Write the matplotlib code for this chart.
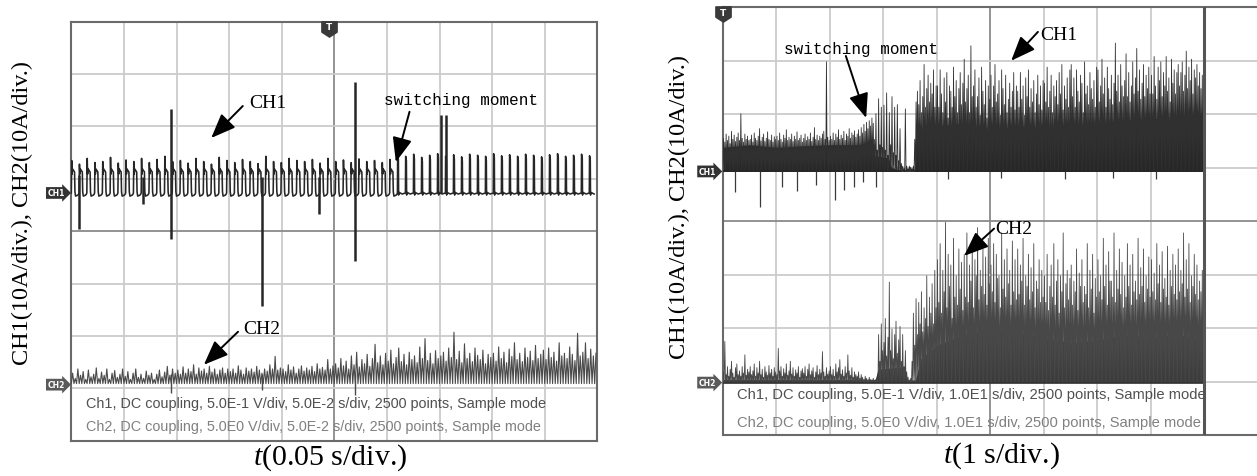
import numpy as np
import matplotlib.pyplot as plt
from matplotlib.path import Path

plt.rcParams['font.family'] = ['Liberation Serif', 'DejaVu Serif']
plt.rcParams['mathtext.fontset'] = 'custom'
plt.rcParams['mathtext.it'] = 'Liberation Serif:italic'
plt.rcParams['mathtext.rm'] = 'Liberation Serif'

# ---------------- left capture, 0.05 s/div ----------------
l_ch1_gnd = 0.73          # CH1 reference level (div)
l_ch2_gnd = -2.93         # CH2 reference level (div)
l_switch = 6.2            # switching moment (div)

# peak of every PWM cycle, div above CH1 reference
l_ch1_pre = [0.62, 0.55, 0.66, 0.58, 0.60, 0.68, 0.57, 0.63, 0.60, 0.66, 0.58, 0.64, 0.70, 0.60,
             0.62, 0.57, 0.66, 0.60, 0.55, 0.68, 0.62, 0.58, 0.64, 0.60, 0.56, 0.70, 0.60, 0.58,
             0.66, 0.62, 0.60, 0.64, 0.57, 0.66, 0.60, 0.63, 0.58, 0.65, 0.60, 0.62, 0.58, 0.64]
l_ch1_post = [0.72, 0.70, 0.74, 0.68, 0.72, 0.75, 0.70, 0.73, 0.69, 0.74, 0.72, 0.70, 0.75,
              0.71, 0.73, 0.70, 0.74, 0.72, 0.69, 0.73, 0.75, 0.70, 0.72, 0.74, 0.71]
# isolated transients on CH1
l_ch1_spk_x = [0.14, 1.36, 1.90, 3.62, 4.70, 5.39, 7.02, 7.12]
l_ch1_spk_top = [0.35, 0.30, 1.60, 0.30, 0.30, 2.11, 1.48, 1.48]
l_ch1_spk_bot = [-0.69, -0.22, -0.88, -2.15, -0.40, -1.29, 0.0, 0.0]

# CH2 samples, div above CH2 reference (0.05 div apart)
l_ch2_vals = [
    0.22, 0.12, 0.30, 0.18, 0.25, 0.10, 0.28, 0.15, 0.20, 0.32, 0.12, 0.24, 0.18, 0.30, 0.10, 0.22, 0.27, 0.14, 0.20, 0.30,
    0.16, 0.25, 0.10, 0.22, 0.30, 0.14, 0.20, 0.12, 0.26, 0.18, 0.22, 0.10, 0.20, 0.28, 0.15, 0.24, 0.35, 0.18, 0.30, 0.22,
    0.28, 0.20, 0.34, 0.22, 0.30, 0.25, 0.38, 0.20, 0.32, 0.26, 0.30, 0.22, 0.35, 0.24, 0.30, 0.20, 0.28, 0.32, 0.22, 0.30,
    0.25, 0.30, 0.22, 0.36, 0.28, 0.20, 0.32, 0.26, 0.30, 0.24, 0.35, 0.28, 0.22, 0.30, 0.26, 0.38, 0.30, 0.54, 0.28, 0.32,
    0.30, 0.25, 0.38, 0.28, 0.34, 0.22, 0.30, 0.36, 0.26, 0.32, 0.28, 0.35, 0.25, 0.40, 0.30, 0.33, 0.28, 0.48, 0.30, 0.36,
    0.40, 0.32, 0.50, 0.36, 0.45, 0.30, 0.55, 0.38, 0.62, 0.34, 0.48, 0.40, 0.58, 0.35, 0.50, 0.77, 0.42, 0.55, 0.38, 0.60,
    0.45, 0.66, 0.40, 0.52, 0.70, 0.44, 0.58, 0.38, 0.62, 0.48, 0.55, 0.42, 0.72, 0.50, 0.88, 0.46, 0.60, 0.40, 0.65, 0.50,
    0.55, 0.62, 0.45, 0.70, 0.52, 1.00, 0.48, 0.64, 0.42, 0.78, 0.50, 0.60, 0.44, 0.70, 0.56, 0.48, 0.66, 0.40, 0.58, 0.52,
    0.60, 0.45, 0.72, 0.50, 0.62, 0.42, 0.68, 0.54, 0.80, 0.48, 0.60, 0.44, 0.70, 0.52, 0.64, 0.46, 0.75, 0.50, 0.58, 0.66,
    0.48, 0.70, 0.52, 0.62, 0.45, 0.80, 0.55, 0.60, 0.50, 0.72, 0.58, 0.46, 0.98, 0.55, 0.62, 0.80, 0.50, 0.68, 0.55, 0.60]
l_ch2_dip_x = [1.90, 3.62, 5.39]
l_ch2_dip = [-0.15, -0.10, -0.20]

# ---------------- right capture, 1 s/div ----------------
r_ch1_gnd = 0.93
r_ch2_gnd = -3.02
r_end = 9.0               # end of record (div)

# solid core of CH1 (x in div, height in div above reference)
r_ch1_body_x = [0, 0.5, 1.0, 1.5, 2.0, 2.5, 2.82, 2.84, 3.10, 3.15, 3.35, 3.58, 3.62,
                4.0, 4.5, 5.0, 5.5, 6.0, 6.5, 7.0, 7.5, 8.0, 8.5, 9.0]
r_ch1_body = [0.45, 0.50, 0.45, 0.48, 0.50, 0.50, 0.52, 0.30, 0.25, 0.08, 0.0, 0.0, 0.70,
              0.85, 0.90, 0.75, 0.85, 0.80, 0.85, 0.90, 0.95, 1.00, 0.95, 1.00]
# CH1 peaks, 0.025 div apart (one row = 0.5 div)
r_ch1_vals = [
    0.62, 0.55, 0.70, 0.58, 0.66, 0.52, 0.75, 0.60, 0.68, 0.56, 0.64, 0.72, 0.58, 1.08, 0.62, 0.55, 0.70, 0.60, 0.66, 0.58,
    0.60, 0.68, 0.55, 0.72, 0.62, 0.58, 0.66, 0.80, 0.57, 0.64, 0.70, 0.56, 0.62, 0.74, 0.60, 0.58, 0.68, 0.55, 0.65, 0.60,
    0.66, 0.58, 0.72, 0.60, 0.55, 0.68, 0.62, 0.78, 0.58, 0.64, 0.60, 0.70, 0.56, 0.66, 0.60, 0.74, 0.58, 0.62, 0.68, 0.55,
    0.62, 0.70, 0.58, 0.65, 0.60, 0.72, 0.56, 0.64, 0.82, 0.60, 0.68, 0.58, 0.66, 0.62, 0.70, 0.75, 0.60, 2.05, 0.64, 0.58,
    0.66, 0.60, 0.72, 0.58, 0.70, 0.64, 0.78, 0.60, 0.68, 0.62, 0.75, 0.58, 0.70, 0.66, 0.80, 0.62, 0.72, 0.68, 0.76, 0.64,
    0.70, 0.78, 0.66, 0.82, 0.72, 0.88, 0.75, 0.92, 0.80, 0.95, 0.85, 1.00, 0.90, 0.60, 1.08, 0.40, 1.36, 0.50, 1.20, 0.45,
    1.24, 0.40, 1.47, 0.30, 1.10, 0.50, 1.40, 0.35, 1.20, 0.30, 1.25, 0.20, 0.80, 0.15, 0.10, 0.05, 1.17, 0.10, 0.05, 0.10,
    0.08, 0.05, 0.10, 0.60, 1.30, 1.50, 1.25, 1.70, 1.10, 1.40, 2.00, 1.20, 1.55, 1.80, 1.30, 1.65, 1.45, 1.90, 1.20, 1.60,
    1.60, 1.20, 1.90, 1.45, 1.10, 1.75, 1.30, 1.85, 1.00, 1.60, 1.50, 1.20, 1.95, 1.40, 1.70, 1.10, 1.55, 1.85, 1.25, 1.65,
    2.10, 1.30, 1.55, 1.80, 1.10, 2.35, 1.40, 1.60, 1.90, 1.20, 1.40, 1.75, 1.05, 1.95, 1.50, 1.25, 1.70, 1.00, 1.60, 1.35,
    1.80, 1.20, 1.60, 2.00, 1.30, 1.45, 1.70, 1.05, 1.90, 1.55, 1.25, 1.80, 1.10, 1.35, 1.65, 1.20, 1.50, 1.85, 1.15, 1.60,
    1.50, 1.20, 1.85, 1.35, 1.60, 1.05, 1.75, 1.40, 1.90, 1.20, 1.55, 1.30, 1.70, 1.10, 1.45, 1.80, 1.25, 1.60, 1.15, 1.70,
    1.65, 1.30, 1.95, 1.20, 1.50, 1.80, 1.10, 1.60, 1.40, 1.70, 1.25, 1.85, 1.45, 2.00, 1.15, 1.60, 1.35, 1.75, 1.20, 1.90,
    2.00, 1.40, 1.75, 1.20, 1.90, 1.50, 1.30, 1.80, 1.65, 1.10, 2.05, 1.45, 1.60, 1.25, 1.85, 1.55, 1.35, 1.70, 1.20, 1.95,
    1.90, 1.30, 1.60, 2.10, 1.45, 1.75, 1.20, 1.95, 1.55, 1.35, 1.80, 1.25, 1.65, 2.40, 1.50, 1.80, 1.30, 2.00, 1.60, 1.40,
    1.70, 2.20, 1.40, 1.85, 1.30, 1.60, 2.05, 1.45, 1.75, 2.30, 1.50, 1.90, 1.35, 1.65, 2.00, 1.40, 1.80, 1.55, 1.95, 1.45,
    1.80, 1.45, 2.15, 1.60, 1.35, 1.95, 1.70, 2.05, 1.40, 1.85, 1.60, 2.15, 1.50, 1.75, 1.30, 2.10, 1.65, 1.90, 1.45, 1.85,
    2.00, 1.60, 1.85, 2.05, 1.50, 1.80, 2.25, 1.55, 1.95, 1.70, 2.10, 1.45, 1.90, 1.75, 2.00, 1.60, 1.85, 1.55, 1.80, 1.70]
r_ch1_dip_x = [0.23, 0.70, 1.10, 1.38, 1.75, 2.10, 2.27, 2.45, 2.62, 2.87, 4.2, 5.2, 6.4, 7.3, 8.1]
r_ch1_dip = [-0.38, -0.66, -0.30, -0.36, -0.25, -0.54, -0.35, -0.30, -0.20, -0.30,
             -0.15, -0.12, -0.15, -0.12, -0.15]

r_ch2_body_x = [0, 2.85, 2.90, 3.40, 3.45, 3.60, 3.70, 4.0, 4.5, 5.0, 5.5, 6.0, 6.5, 7.0, 7.5, 8.0, 8.5, 9.0]
r_ch2_body = [0.06, 0.06, 0.25, 0.30, 0.05, 0.05, 0.45, 0.70, 0.90, 1.00, 0.95, 0.85, 0.75, 0.80, 0.90, 0.85, 0.90, 0.80]
# CH2 peaks, 0.025 div apart (one row = 0.5 div)
r_ch2_vals = [
    0.20, 0.77, 0.15, 0.30, 0.12, 0.25, 0.40, 0.18, 0.10, 0.28, 0.35, 0.15, 0.22, 0.12, 0.30, 0.18, 0.52, 0.14, 0.25, 0.20,
    0.30, 0.15, 0.22, 0.35, 0.12, 0.28, 0.18, 0.40, 0.15, 0.25, 0.10, 0.30, 0.20, 0.14, 0.32, 0.18, 0.25, 0.12, 0.28, 0.20,
    0.15, 0.64, 0.22, 0.30, 0.12, 0.26, 0.18, 0.35, 0.14, 0.22, 0.40, 0.16, 0.28, 0.12, 0.24, 0.18, 0.30, 0.10, 0.22, 0.26,
    0.18, 0.30, 0.12, 0.25, 0.35, 0.15, 0.22, 0.28, 0.10, 0.20, 0.32, 0.15, 0.25, 0.18, 0.58, 0.20, 0.12, 0.28, 0.16, 0.22,
    0.30, 0.15, 0.25, 0.12, 0.35, 0.20, 0.28, 0.43, 0.16, 0.24, 0.12, 0.30, 0.18, 0.52, 0.22, 0.14, 0.28, 0.10, 0.20, 0.15,
    0.12, 0.20, 0.08, 0.15, 0.10, 0.06, 0.12, 0.08, 0.05, 0.10, 0.06, 0.05, 0.08, 0.04, 0.06, 0.05, 0.90, 0.40, 1.10, 0.60,
    0.75, 1.20, 0.50, 0.85, 1.88, 0.60, 1.00, 0.45, 0.90, 1.15, 0.55, 0.80, 1.05, 0.40, 0.90, 0.30, 0.60, 0.20, 0.10, 0.05,
    0.08, 0.40, 1.30, 0.70, 1.57, 0.90, 1.50, 1.10, 1.70, 0.95, 1.40, 1.20, 2.00, 1.05, 1.60, 1.30, 1.85, 1.10, 2.10, 1.40,
    2.30, 1.50, 2.60, 1.30, 2.10, 1.70, 3.00, 1.40, 2.40, 1.80, 2.20, 1.20, 2.70, 1.60, 2.00, 1.45, 2.50, 1.75, 2.25, 1.35,
    2.40, 1.60, 2.80, 1.50, 2.20, 1.90, 2.60, 1.40, 2.30, 2.00, 2.90, 1.55, 2.10, 1.80, 2.50, 1.65, 2.35, 1.45, 2.70, 1.85,
    2.20, 1.70, 2.60, 1.50, 2.40, 1.95, 2.00, 1.40, 2.80, 1.75, 2.30, 1.60, 2.50, 1.85, 2.10, 1.45, 2.65, 1.70, 2.30, 1.55,
    2.50, 1.65, 2.20, 1.90, 2.70, 1.45, 2.00, 1.80, 2.40, 1.55, 2.15, 1.70, 2.60, 1.40, 1.90, 1.75, 2.30, 1.50, 2.10, 1.60,
    2.00, 1.50, 2.40, 1.35, 1.80, 2.20, 1.60, 2.60, 1.45, 1.90, 2.30, 1.30, 2.00, 1.70, 2.80, 1.40, 1.85, 2.10, 1.55, 1.95,
    2.20, 1.45, 1.90, 1.70, 2.50, 1.35, 2.05, 1.80, 2.30, 1.50, 1.80, 1.65, 2.60, 1.40, 2.10, 1.75, 2.40, 1.30, 1.95, 1.60,
    2.30, 1.70, 2.00, 1.55, 2.70, 1.80, 2.20, 1.45, 2.45, 1.90, 1.90, 1.60, 2.80, 1.50, 2.10, 1.75, 2.50, 1.65, 2.25, 1.40,
    2.00, 1.60, 2.60, 1.80, 2.20, 1.45, 2.40, 1.70, 1.90, 1.55, 2.70, 1.65, 2.15, 1.80, 2.50, 1.50, 2.00, 1.75, 2.35, 1.60,
    2.30, 1.70, 2.05, 1.55, 2.60, 1.85, 2.20, 1.50, 2.45, 1.75, 1.95, 1.60, 2.55, 1.45, 2.10, 1.80, 2.40, 1.65, 2.20, 1.55,
    2.50, 1.70, 2.10, 1.85, 2.80, 1.60, 2.30, 1.75, 2.60, 1.50, 2.00, 1.80, 2.40, 1.65, 2.20, 1.55, 1.90, 1.70, 2.10, 1.60]

info_left = ["Ch1, DC coupling, 5.0E-1 V/div, 5.0E-2 s/div, 2500 points, Sample mode",
             "Ch2, DC coupling, 5.0E0 V/div, 5.0E-2 s/div, 2500 points, Sample mode"]
info_right = ["Ch1, DC coupling, 5.0E-1 V/div, 1.0E1 s/div, 2500 points, Sample mode",
              "Ch2, DC coupling, 5.0E0 V/div, 1.0E1 s/div, 2500 points, Sample mode"]
ylabel = "CH1(10A/div.), CH2(10A/div.)"

W, H = 1257, 477
fig = plt.figure(figsize=(W / 100, H / 100), dpi=100)
axL = fig.add_axes([71.3 / W, 1 - 441.7 / H, 526 / W, 419 / H])
axR = fig.add_axes([722.8 / W, 1 - 436 / H, (W - 722.8) / W, 427.7 / H])

GRID = '#cbcbcb'
TRACE = '#262626'

# downward pointing trigger flag
tflag = Path([(-1, 1), (1, 1), (1, -0.35), (0, -1), (-1, -0.35), (-1, 1)],
             [Path.MOVETO, Path.LINETO, Path.LINETO, Path.LINETO, Path.LINETO, Path.CLOSEPOLY])


def scope_frame(ax, xmax):
    ax.set_xlim(0, xmax)
    ax.set_ylim(-4, 4)
    ax.set_xticks([])
    ax.set_yticks([])
    for k in range(1, 10):
        ax.axvline(k, color='#8a8a8a' if k == 5 else GRID, lw=1.3, zorder=0)
    for k in range(-3, 4):
        ax.axhline(k, color='#8a8a8a' if k == 0 else GRID, lw=1.3, zorder=0)
    for s in ax.spines.values():
        s.set_color('#6a6a6a')
        s.set_linewidth(1.5)


def tag(ax, y, text, color):
    ax.text(-0.29, y, text, ha='center', va='center', fontsize=5.5, fontweight='bold',
            family='DejaVu Sans', color='white', clip_on=False,
            bbox=dict(boxstyle='rarrow,pad=0.18', fc=color, ec='none'))


def trig(ax, x):
    ax.plot([x], [3.87], marker=tflag, ms=11, color='#3a3a3a', clip_on=False, zorder=6)
    ax.text(x, 3.9, 'T', ha='center', va='center', color='white', fontsize=6.5,
            fontweight='bold', family='DejaVu Sans', zorder=7, clip_on=False)


def arrow_note(ax, text, txt_xy, tail, tip, mono=False):
    ax.annotate('', xy=tip, xytext=tail,
                arrowprops=dict(arrowstyle='-|>,head_length=0.75,head_width=0.3',
                                color='black', lw=1.4, mutation_scale=20,
                                shrinkA=0, shrinkB=0), zorder=8)
    if mono:
        ax.text(*txt_xy, text, family='Liberation Mono', fontsize=11.5, va='center', zorder=8)
    else:
        ax.text(*txt_xy, text, fontsize=14, va='center', zorder=8)


def zigzag(vals, x_end, base=0.0):
    # trace swinging between the reference level and each sampled peak
    n = len(vals)
    x = np.linspace(0, x_end, n, endpoint=False)
    dx = x_end / n
    zx = np.column_stack([x, x + 0.5 * dx]).ravel()
    zy = np.column_stack([np.full(n, base), np.array(vals)]).ravel()
    return zx, zy


# ---- left panel ----
scope_frame(axL, 10)

pre_shape = [(0.0, 0.0, 0), (0.05, 0.0, 1), (0.10, 0.36, 0), (0.16, 0.46, 0), (0.42, 0.40, 0),
             (0.47, 0.02, 0), (0.55, -0.06, 0), (0.85, -0.04, 0), (0.95, -0.02, 0)]
post_shape = [(0.0, 0.0, 0), (0.03, 0.0, 1), (0.12, -0.08, 1), (0.15, -0.04, 0), (0.22, 0.01, 0),
              (0.60, -0.02, 0)]


def cycles(peaks, x0, x1, shape):
    per = (x1 - x0) / len(peaks)
    xs, ys = [], []
    for i, pk in enumerate(peaks):
        for ph, lvl, w in shape:
            xs.append(x0 + (i + ph) * per)
            ys.append(lvl + w * pk)
    return xs, ys


xa, ya = cycles(l_ch1_pre, 0, l_switch, pre_shape)
xb, yb = cycles(l_ch1_post, l_switch, 10, post_shape)
axL.plot(xa + xb, l_ch1_gnd + np.array(ya + yb), color=TRACE, lw=1.15, zorder=3)
axL.vlines(l_ch1_spk_x, l_ch1_gnd + np.array(l_ch1_spk_bot), l_ch1_gnd + np.array(l_ch1_spk_top),
           color=TRACE, lw=1.8, zorder=3)

zx, zy = zigzag(l_ch2_vals, 10, base=0.02)
axL.plot(zx, l_ch2_gnd + zy, color='#4a4a4a', lw=0.8, zorder=3)
axL.vlines(l_ch2_dip_x, l_ch2_gnd + np.array(l_ch2_dip), l_ch2_gnd + 0.2, color='#4a4a4a', lw=1.0, zorder=3)

axL.text(0.28, -3.28, info_left[0], family='Liberation Sans', fontsize=10.4, color='#505050', va='center')
axL.text(0.28, -3.72, info_left[1], family='Liberation Sans', fontsize=10.4, color='#808080', va='center')

tag(axL, l_ch1_gnd, 'CH1', '#333333')
tag(axL, l_ch2_gnd, 'CH2', '#5a5a5a')
trig(axL, 4.905)

arrow_note(axL, 'CH1', (3.38, 2.45), (3.26, 2.39), (2.66, 1.78))
arrow_note(axL, 'switching moment', (5.94, 2.52), (6.43, 2.28), (6.17, 1.32), mono=True)
arrow_note(axL, 'CH2', (3.26, -1.86), (3.17, -1.92), (2.52, -2.55))

# ---- right panel ----
scope_frame(axR, (W - 722.8) / 53.5)
axR.spines['right'].set_visible(False)
axR.axvline(r_end, color='#555555', lw=2.2, zorder=4)

axR.fill_between(r_ch1_body_x, r_ch1_gnd, r_ch1_gnd + np.array(r_ch1_body), color='#1c1c1c', lw=0, zorder=2)
zx, zy = zigzag(r_ch1_vals, r_end)
axR.plot(zx, r_ch1_gnd + zy, color='#303030', lw=0.6, zorder=3)
axR.vlines(r_ch1_dip_x, r_ch1_gnd + np.array(r_ch1_dip), r_ch1_gnd, color='#3a3a3a', lw=0.9, zorder=3)
axR.plot([0, r_end], [r_ch1_gnd, r_ch1_gnd], color=TRACE, lw=1.2, zorder=3)

axR.fill_between(r_ch2_body_x, r_ch2_gnd, r_ch2_gnd + np.array(r_ch2_body), color='#2e2e2e', lw=0, zorder=2)
zx, zy = zigzag(r_ch2_vals, r_end)
axR.plot(zx, r_ch2_gnd + zy, color='#484848', lw=0.6, zorder=3)
axR.plot([0, r_end], [r_ch2_gnd, r_ch2_gnd], color='#333333', lw=1.2, zorder=3)

axR.text(0.27, -3.24, info_right[0], family='Liberation Sans', fontsize=10.6, color='#505050', va='center')
axR.text(0.27, -3.75, info_right[1], family='Liberation Sans', fontsize=10.6, color='#808080', va='center')

tag(axR, r_ch1_gnd, 'CH1', '#333333')
tag(axR, r_ch2_gnd, 'CH2', '#5a5a5a')
trig(axR, 0.01)

arrow_note(axR, 'switching moment', (1.14, 3.23), (2.30, 3.09), (2.68, 1.93), mono=True)
arrow_note(axR, 'CH1', (5.93, 3.50), (5.89, 3.54), (5.39, 3.00))
arrow_note(axR, 'CH2', (5.09, -0.14), (5.07, -0.14), (4.51, -0.65))

# axis titles
fig.text(22 / W, 1 - 213 / H, ylabel, rotation=90, fontsize=17.5, ha='center', va='center')
fig.text(679 / W, 1 - 207 / H, ylabel, rotation=90, fontsize=17.5, ha='center', va='center')
fig.text(330 / W, 1 - 458 / H, r'$\mathit{t}$(0.05 s/div.)', fontsize=21.5, ha='center', va='center')
fig.text(1001 / W, 1 - 456 / H, r'$\mathit{t}$(1 s/div.)', fontsize=21.5, ha='center', va='center')

fig.savefig('out.png', dpi=100)
